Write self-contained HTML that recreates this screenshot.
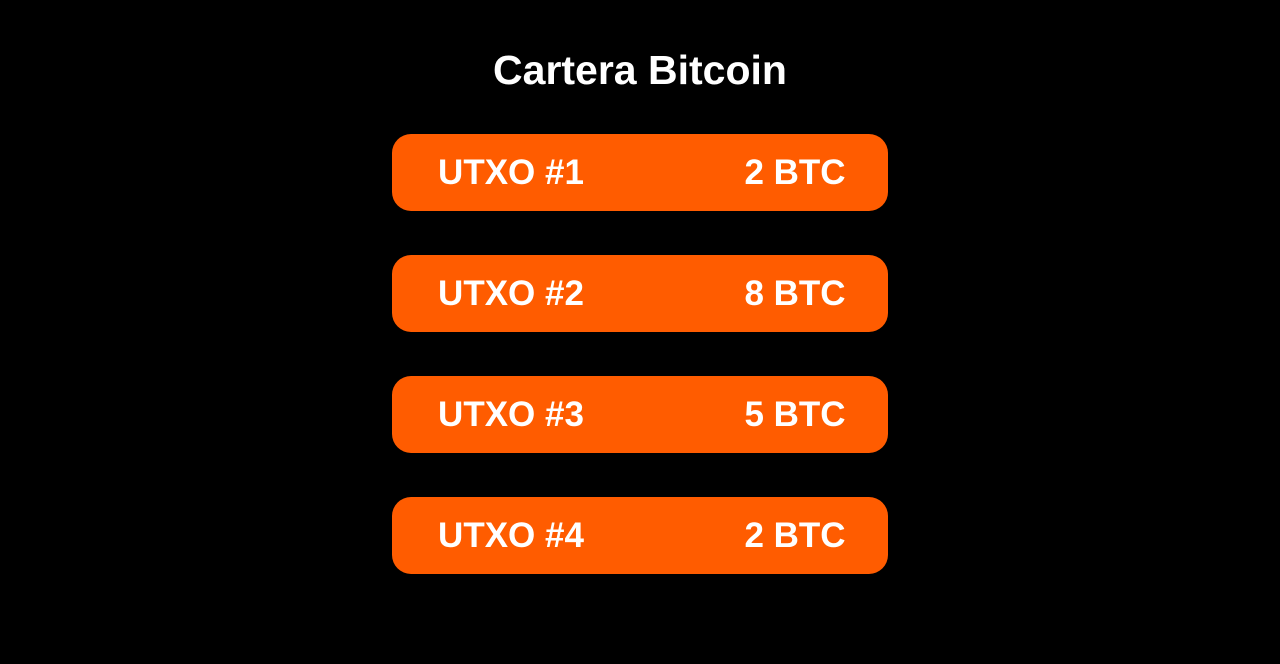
<!DOCTYPE html>
<html>
<head>
<meta charset="utf-8">
<style>
  html,body{margin:0;padding:0;background:#000;}
  body{width:1280px;height:664px;position:relative;overflow:hidden;font-family:"Liberation Sans",sans-serif;color:#fff;}
  .title{position:absolute;left:0;width:1280px;top:46px;text-align:center;font-size:41px;font-weight:bold;line-height:48px;}
  .box{position:absolute;left:392px;width:496px;height:77px;background:#FF5C00;border-radius:19px;}
  .lbl,.val{position:absolute;top:0;line-height:77px;font-size:35px;font-weight:bold;white-space:nowrap;transform:translateX(-50%);}
</style>
</head>
<body>
<div class="title">Cartera Bitcoin</div>
<div id="list"></div>
<script>
const utxoLabels = ["UTXO #1","UTXO #2","UTXO #3","UTXO #4"];
const btcValues = [2, 8, 5, 2];
const list = document.getElementById('list');
utxoLabels.forEach((lab, i) => {
  const box = document.createElement('div');
  box.className = 'box';
  box.style.top = (134 + i * 121) + 'px';
  
  
  const l = document.createElement('div');
  l.className = 'lbl';
  l.style.left = '119px';
  l.textContent = lab;
  
  
  const v = document.createElement('div');
  v.className = 'val';
  v.style.left = '403px';
  v.textContent = btcValues[i] + ' BTC';
  
  
  box.appendChild(l);
  box.appendChild(v);
  list.appendChild(box);
});
</script>
</body>
</html>
